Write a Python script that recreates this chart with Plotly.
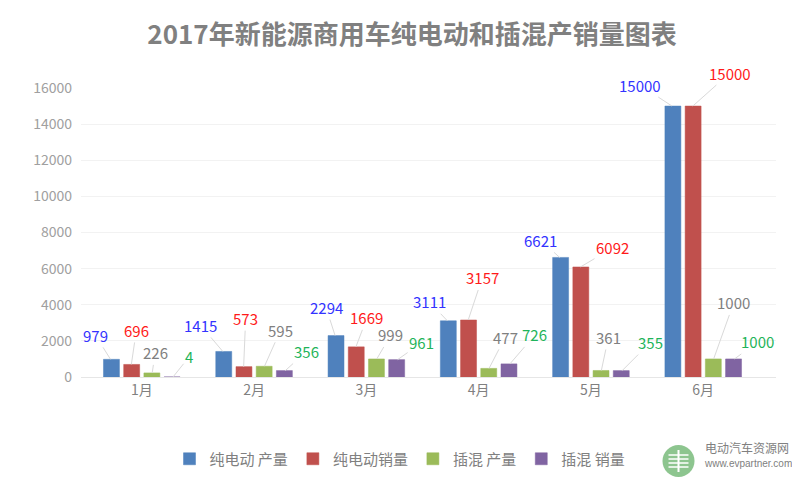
import plotly.graph_objects as go

months = ["1月", "2月", "3月", "4月", "5月", "6月"]
series_names = ["纯电动 产量", "纯电动销量", "插混 产量", "插混 销量"]
ev_prod = [979, 1415, 2294, 3111, 6621, 15000]
ev_sales = [696, 573, 1669, 3157, 6092, 15000]
phev_prod = [226, 595, 999, 477, 361, 1000]
phev_sales = [4, 356, 961, 726, 355, 1000]
y_ticks = [0, 2000, 4000, 6000, 8000, 10000, 12000, 14000, 16000]
y_tick_text = ["0", "2000", "4000", "6000", "8000", "10000", "12000", "14000", "16000"]

bar_colors = ["#4F81BD", "#C0504D", "#9BBB59", "#8064A2"]
label_colors = ["#3333FF", "#FF1A1A", "#808080", "#1FB45A"]
# label text offsets (px) relative to bar top, per series per month
label_offsets = [
    [(-15, -24), (-22, -26), (-9, -28), (-18, -19), (-19, -17), (-32, -21)],
    [(5, -34), (2, -48), (11, -29), (14, -42), (32, -19), (37, -33)],
    [(3, -20), (16, -36), (14, -24), (16, -31), (7, -33), (20, -56)],
    [(16, -20), (21, -19), (24, -17), (25, -29), (28, -28), (23, -17)],
]

OFF = 8  # page body margin
W, H = 800 - OFF, 486 - OFF
ml, mr, mt, mb = 81 - OFF, 24, 88 - OFF, 109
bargap, bargroupgap = 0.28, 0.21
PW, PH = W - ml - mr, H - mt - mb


def px_x(x):  # reference pixel -> paper fraction
    return (x - OFF - ml) / PW


def px_y(y):
    return (H - mb - (y - OFF)) / PH


values = [ev_prod, ev_sales, phev_prod, phev_sales]
fig = go.Figure()
for name, vals, col in zip(series_names, values, bar_colors):
    fig.add_trace(go.Bar(x=months, y=vals, name=name,
                         marker=dict(color=col, line=dict(color=col, width=0.5))))

cat_w = PW / len(months)
slot = cat_w * (1 - bargap) / 4
for si, vals in enumerate(values):
    shift = (si - 1.5) * slot
    for mi, v in enumerate(vals):
        ax, ay = label_offsets[si][mi]
        fig.add_annotation(x=months[mi], y=v, xref="x", yref="y", xshift=shift,
                           text=f"{v}", showarrow=True, arrowhead=0, arrowwidth=1,
                           arrowcolor="#D9D9D9", ax=ax, ay=ay, standoff=0,
                           font=dict(size=15, color=label_colors[si],
                                     family="Noto Sans CJK SC"))

# watermark logo
cx, cy, r = 678.5, 461, 16
fig.add_shape(type="circle", xref="paper", yref="paper",
              x0=px_x(cx - r), x1=px_x(cx + r), y0=px_y(cy + r), y1=px_y(cy - r),
              fillcolor="#8DC58F", line=dict(width=0), layer="above")
for dy in [-6, -2, 2, 6]:
    fig.add_shape(type="line", xref="paper", yref="paper",
                  x0=px_x(cx - 10), x1=px_x(cx + 10), y0=px_y(cy + dy), y1=px_y(cy + dy),
                  line=dict(color="white", width=1.5), layer="above")
fig.add_shape(type="line", xref="paper", yref="paper",
              x0=px_x(cx), x1=px_x(cx), y0=px_y(cy - 11), y1=px_y(cy + 11),
              line=dict(color="white", width=2), layer="above")
fig.add_annotation(x=px_x(703), y=px_y(458), xref="paper", yref="paper",
                   xanchor="left", text="电动汽车资源网", showarrow=False,
                   font=dict(size=12, color="#808080", family="Noto Sans CJK SC"))
fig.add_annotation(x=px_x(702), y=px_y(471), xref="paper", yref="paper",
                   xanchor="left", text="www.evpartner.com", showarrow=False,
                   font=dict(size=10, color="#808080", family="Liberation Sans"))

fig.update_layout(
    width=W, height=H,
    margin=dict(l=ml, r=mr, t=mt, b=mb),
    paper_bgcolor="white", plot_bgcolor="white",
    barmode="group", bargap=bargap, bargroupgap=bargroupgap,
    title=dict(text="<b>2017年新能源商用车纯电动和插混产销量图表</b>",
               x=(412 - OFF) / W, xanchor="center", y=1 - (35 - OFF) / H, yanchor="middle",
               font=dict(size=26, color="#808080", family="Noto Sans CJK SC")),
    showlegend=True,
    legend=dict(orientation="h", xref="container", x=(400 - OFF) / W, xanchor="center",
                yref="container", y=1 - (459 - OFF) / H, yanchor="middle",
                font=dict(size=15, color="#808080", family="Noto Sans CJK SC"),
                itemwidth=30, tracegroupgap=0),
    font=dict(family="Noto Sans CJK SC"),
)
fig.update_xaxes(showgrid=False, showline=True, linecolor="#E6E6E6", ticks="",
                 tickfont=dict(size=14, color="#808080"))
fig.update_yaxes(range=[0, 16000], tickvals=y_ticks, ticktext=y_tick_text,
                 showgrid=True, gridcolor="#F2F2F2",
                 zeroline=False, tickfont=dict(size=14, color="#A0A0A0"), ticks="",
                 ticklabelstandoff=8)

fig.write_html("out.html")
